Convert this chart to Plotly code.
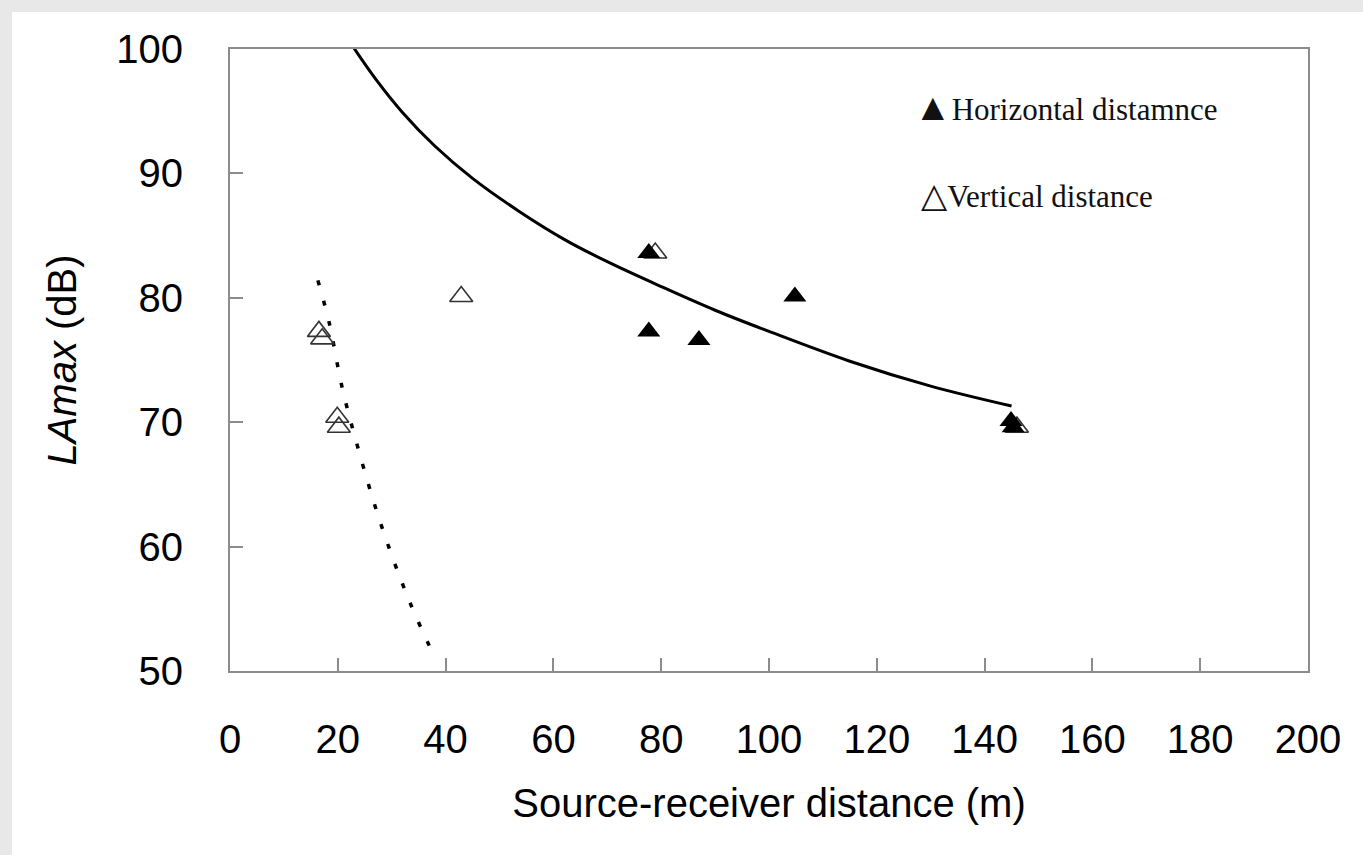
import plotly.graph_objects as go

# Horizontal-distance measurements (filled triangles)
horiz_x = [77.7, 77.7, 87.0, 104.8, 144.9, 145.3]
horiz_y = [83.6, 77.3, 76.6, 80.1, 70.1, 69.6]

# Vertical-distance measurements (open triangles)
vert_x = [78.9, 42.9, 16.5, 17.1, 19.9, 20.2, 146.0]
vert_y = [83.6, 80.1, 77.3, 76.7, 70.4, 69.6, 69.6]

# Fitted curve for horizontal distance (solid)
fit_h_x = [22.8, 27.0, 32.0, 38.0, 45.0, 53.8, 62.0, 70.0, 80.0, 90.0, 100.0, 115.0, 130.0, 145.0]
fit_h_y = [100.2, 97.6, 94.9, 92.2, 89.6, 86.9, 84.7, 82.9, 80.9, 79.0, 77.3, 74.9, 72.9, 71.3]

# Fitted curve for vertical distance (dotted)
fit_v_x = [16.3, 18.4, 20.8, 23.7, 28.0, 33.2, 38.2]
fit_v_y = [81.4, 78.0, 72.8, 68.0, 61.8, 55.7, 50.9]

x_ticks = [0, 20, 40, 60, 80, 100, 120, 140, 160, 180, 200]
y_ticks = [50, 60, 70, 80, 90, 100]

AX = "#8c8c8c"
SANS = "Liberation Sans, Arial, sans-serif"
SERIF = "Liberation Serif, Times New Roman, DejaVu Sans, serif"

fig = go.Figure()

fig.add_trace(go.Scatter(
    x=fit_v_x, y=fit_v_y, mode="lines", line_shape="spline",
    line=dict(color="black", width=3.5, dash="5px,16px"),
    showlegend=False, hoverinfo="skip"))
fig.add_trace(go.Scatter(
    x=fit_h_x, y=fit_h_y, mode="lines", line_shape="spline",
    line=dict(color="black", width=3),
    showlegend=False, hoverinfo="skip"))
fig.add_trace(go.Scatter(
    x=vert_x, y=vert_y, mode="markers", name="Vertical distance",
    marker=dict(symbol="triangle-up-open", size=20, color="#333333",
                line=dict(width=1.6)),
    showlegend=False))
fig.add_trace(go.Scatter(
    x=horiz_x, y=horiz_y, mode="markers", name="Horizontal distamnce",
    marker=dict(symbol="triangle-up", size=20, color="black",
                line=dict(width=0)),
    showlegend=False))

fig.add_annotation(x=126.5, y=95.35, xref="x", yref="y", xanchor="left",
                   yanchor="middle", showarrow=False,
                   text="<span style='font-size:38px'>▲</span>Horizontal distamnce",
                   font=dict(family=SERIF, size=31, color="#111111"))
fig.add_annotation(x=127.9, y=88.2, xref="x", yref="y", xanchor="left",
                   yanchor="middle", showarrow=False,
                   text="<span style='font-size:34px'>△</span>Vertical distance",
                   font=dict(family=SERIF, size=31, color="#111111"))

# outer light-grey frame of the page
fig.add_shape(type="rect", xref="paper", yref="paper", layer="below",
              x0=(12 - 230) / 1078, x1=1.2, y0=-0.5, y1=(671 - 12) / 622,
              fillcolor="white", line=dict(width=0))

fig.update_xaxes(
    range=[0, 200], tickvals=x_ticks, ticks="inside", ticklen=13,
    tickwidth=2, tickcolor=AX, showline=True, linecolor=AX, linewidth=2,
    mirror=True, showgrid=False, zeroline=False,
    tickfont=dict(family=SANS, size=40, color="black"),
    ticklabelstandoff=32,
    title=dict(text="Source-receiver distance (m)", standoff=29,
               font=dict(family=SANS, size=40, color="black")))
fig.update_yaxes(
    range=[50, 100], tickvals=y_ticks, ticks="inside", ticklen=13,
    tickwidth=2, tickcolor=AX, showline=True, linecolor=AX, linewidth=2,
    mirror=True, showgrid=False, zeroline=False,
    tickfont=dict(family=SANS, size=40, color="black"),
    ticklabelstandoff=37,
    title=dict(text="<i>LAmax</i> (dB)", standoff=27,
               font=dict(family=SANS, size=40, color="black")))

fig.update_layout(
    width=1363, height=855,
    margin=dict(l=230, r=55, t=49, b=184, autoexpand=False),
    paper_bgcolor="#e8e8e8", plot_bgcolor="white",
    showlegend=False)

fig.write_html("out.html", config={"displayModeBar": False},
               post_script="document.body.style.margin='0';document.body.style.overflow='hidden';")
